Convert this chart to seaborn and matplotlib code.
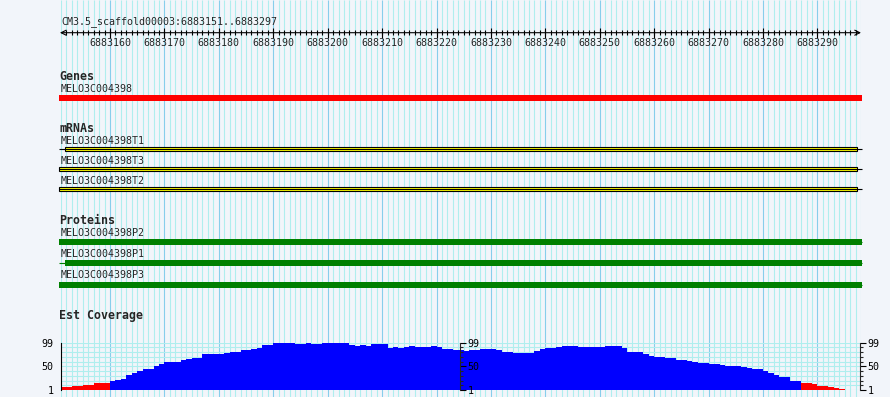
import numpy as np
import pandas as pd
import matplotlib
matplotlib.use("Agg")
import matplotlib.pyplot as plt
from matplotlib.patches import Rectangle
import seaborn as sns

sns.set_style("white")
plt.rcParams['font.family'] = ['DejaVu Sans Mono', 'DejaVu Sans']

# region shown
ref_name = "CM3.5_scaffold00003"
view_start = 6883151
view_end = 6883297
ruler_ticks = list(range(6883160, 6883291, 10))

# features (start, end) in bp
gene_names = ["MELO3C004398"]
gene_spans = [(6883150.6, 6883298.1)]

mrna_names = ["MELO3C004398T1", "MELO3C004398T3", "MELO3C004398T2"]
mrna_spans = [(6883150.6, 6883298.1), (6883150.6, 6883298.1), (6883150.6, 6883298.1)]
mrna_exons = [(6883151.7, 6883297.3), (6883150.6, 6883297.3), (6883150.6, 6883297.3)]

protein_names = ["MELO3C004398P2", "MELO3C004398P1", "MELO3C004398P3"]
protein_spans = [(6883150.6, 6883298.1), (6883150.6, 6883298.1), (6883150.6, 6883298.1)]
protein_cds = [(6883150.6, 6883298.1), (6883151.7, 6883298.1), (6883150.6, 6883298.1)]

# est coverage, one value per bp
coverage = [7, 7, 9, 9, 11, 11, 16, 16, 16, 19,
            22, 24, 32, 36, 40, 44, 44, 50, 55, 59,
            60, 60, 63, 65, 68, 68, 75, 75, 75, 75,
            77, 79, 79, 83, 83, 85, 87, 94, 94, 98,
            98, 99, 98, 96, 96, 98, 96, 96, 98, 99,
            98, 98, 98, 94, 92, 94, 92, 96, 96, 96,
            87, 90, 87, 90, 92, 90, 90, 90, 92, 90,
            85, 85, 83, 83, 81, 83, 83, 85, 85, 85,
            83, 79, 79, 78, 78, 78, 78, 82, 85, 89,
            89, 91, 93, 92, 93, 90, 90, 90, 90, 90,
            92, 92, 92, 87, 80, 80, 80, 75, 71, 70,
            70, 68, 68, 63, 63, 61, 59, 56, 56, 55,
            55, 53, 51, 51, 51, 49, 47, 44, 44, 41,
            37, 33, 28, 28, 19, 19, 16, 16, 13, 10,
            10, 8, 6, 3, 2, 0, 0]
cov_min, cov_max = 1, 99
low_cut = 18

BG = "#F2F5FA"
GRID = "#AFEEEE"
GRID_MAJOR = "#87CEEB"
W, H = 890, 397
x0, x1 = 61, 861

fig = plt.figure(figsize=(W / 100, H / 100), dpi=100, facecolor=BG)
ax = fig.add_axes([x0 / W, 0, (x1 - x0) / W, 1])
ax.set_xlim(view_start, view_end + 1)
ax.set_ylim(H, 0)
ax.axis("off")

# vertical grid
pos_all = np.arange(view_start, view_end + 2)
minor = [p for p in pos_all if p % 10 != 0]
major = [p for p in pos_all if p % 10 == 0]
ax.vlines(minor, 0, H, colors=GRID, lw=0.8, zorder=0)
ax.vlines(major, 0, H, colors=GRID_MAJOR, lw=0.8, zorder=0)

# ruler
ax.text(view_start, 24.3, f"{ref_name}:{view_start}..{view_end}", fontsize=7.2,
        va="baseline", ha="left")
ax.annotate("", xy=(view_end + 1, 32.7), xytext=(view_start - 0.2, 32.7),
            arrowprops=dict(arrowstyle="<->", color="black", lw=0.8,
                            shrinkA=0, shrinkB=0, mutation_scale=9))
ax.vlines(np.arange(view_start + 1, view_end + 1), 30.3, 35.2, colors="black", lw=0.8)
ax.vlines(ruler_ticks, 27.5, 37.5, colors="black", lw=0.8)
for t in ruler_ticks:
    ax.text(t, 46, str(t), fontsize=7.2, ha="center", va="baseline")


def title(y, s):
    ax.text(view_start - 0.3, y, s, fontsize=8.4, fontweight="bold", va="baseline")


def label(y, s):
    ax.text(view_start - 0.05, y, s, fontsize=7.2, va="baseline")


# genes
title(80, "Genes")
for i, (name, (s, e)) in enumerate(zip(gene_names, gene_spans)):
    label(92, name)
    ax.add_patch(Rectangle((s, 95), e - s, 6, facecolor="#FF0000", lw=0, clip_on=False))

# mRNAs
title(131.7, "mRNAs")
for i, name in enumerate(mrna_names):
    base = 144 + 20 * i
    label(base, name)
    yc = base + 5.3
    s, e = mrna_spans[i]
    ax.hlines(yc, s, e, colors="black", lw=0.8, clip_on=False)
    es, ee = mrna_exons[i]
    ax.add_patch(Rectangle((es, yc - 2), ee - es, 4, facecolor="#FFFF00",
                           edgecolor="black", lw=0.8, clip_on=False))

# proteins
title(223.7, "Proteins")
prot_base = [235.7, 256.7, 278.3]
for i, name in enumerate(protein_names):
    base = prot_base[i]
    label(base, name)
    yc = base + 6.3
    s, e = protein_spans[i]
    ax.hlines(yc, s, e, colors="#008000", lw=0.8, clip_on=False)
    cs, ce = protein_cds[i]
    ax.add_patch(Rectangle((cs, yc - 3), ce - cs, 6, facecolor="#008000", lw=0,
                           clip_on=False))

# est coverage
title(319, "Est Coverage")
cy0, cy1 = 342.7, 390
cax = fig.add_axes([x0 / W, (H - cy1) / H, (x1 - x0) / W, (cy1 - cy0) / H])
cax.patch.set_visible(False)
yt = np.linspace(cov_min, cov_max, 11)
cax.hlines(yt, view_start, view_end + 1, colors=GRID, lw=0.8, zorder=0)

df = pd.DataFrame({
    "pos": np.arange(view_start, view_end + 1) + 0.5,
    "cov": coverage,
})
df["level"] = np.where(df["cov"] < low_cut, "low", "high")
sns.histplot(data=df, x="pos", weights="cov", binwidth=1,
             binrange=(view_start, view_end + 1),
             hue="level", palette={"low": "#FF0000", "high": "#0000FF"},
             multiple="layer", alpha=1, linewidth=0, antialiased=False,
             legend=False, ax=cax, zorder=2)
cax.set_xlim(view_start, view_end + 1)
cax.set_ylim(cov_min, cov_max)
cax.set_xlabel("")
cax.set_ylabel("")
cax.set_xticks([])


def cov_axis(a, side):
    for sp in a.spines.values():
        sp.set_visible(False)
    a.spines["left"].set_visible(True)
    a.spines["left"].set_color("black")
    a.spines["left"].set_linewidth(0.8)
    a.set_ylim(cov_min, cov_max)
    a.set_yticks([cov_min, 50, cov_max])
    a.set_yticklabels(["1", "50", "99"])
    a.set_yticks(yt, minor=True)
    if side == "right":
        a.yaxis.tick_right()
        a.spines["left"].set_visible(False)
        a.spines["right"].set_visible(True)
        a.spines["right"].set_linewidth(0.8)
    a.tick_params(axis="y", which="major", length=4, width=0.8, direction="out",
                  pad=1.5, labelsize=7.2, colors="black")
    a.tick_params(axis="y", which="minor", length=2.5, width=0.8, direction="out")


cov_axis(cax, "left")
for xp in (460, 860):
    m = fig.add_axes([xp / W, (H - cy1) / H, 0.0001, (cy1 - cy0) / H])
    m.patch.set_visible(False)
    m.set_xticks([])
    cov_axis(m, "right")

fig.savefig("out.png", dpi=100, facecolor=BG)
